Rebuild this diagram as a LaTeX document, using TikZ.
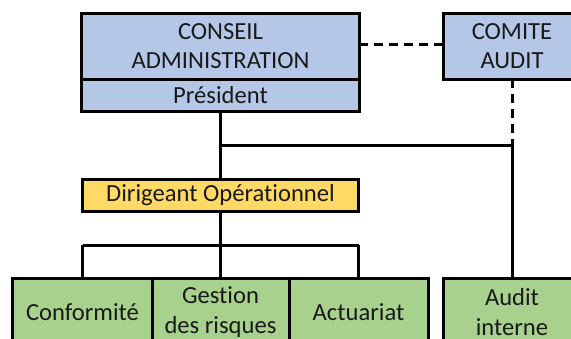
\documentclass[tikz,border=0pt]{standalone}
\usepackage{fontspec}
\setmainfont[Ligatures={NoCommon}]{Carlito}
\definecolor{bluebox}{RGB}{180,199,231}
\definecolor{yellowbox}{RGB}{255,217,102}
\definecolor{greenbox}{RGB}{169,209,142}
\tikzset{
  orgbox/.style={draw=black, line width=3bp, inner sep=0pt, outer sep=0pt, align=center,
    font=\fontsize{24.6bp}{29.5bp}\selectfont, text=black!90},
  bluestyle/.style={orgbox, fill=bluebox},
  yellowstyle/.style={orgbox, fill=yellowbox},
  greenstyle/.style={orgbox, fill=greenbox},
  link/.style={draw=black, line width=3bp},
  dashlink/.style={draw=black, line width=3bp, dash pattern=on 9bp off 6bp}
}
\begin{document}
\begin{tikzpicture}[x=1bp,y=-1bp]
\useasboundingbox (0,0) rectangle (571,338);
\clip (0,0) rectangle (571,338);
\fill[white] (0,0) rectangle (571,338);
% top boxes
\node[bluestyle, minimum width=277bp, minimum height=66bp] (conseil) at (220.5,46) {CONSEIL\\ADMINISTRATION};
\node[bluestyle, minimum width=277bp, minimum height=32bp] (president) at (220.5,95) {Président};
\node[bluestyle, minimum width=138bp, minimum height=66bp] (comite) at (512,46) {COMITE\\AUDIT};
% dirigeant
\node[yellowstyle, minimum width=276bp, minimum height=32bp] (dirigeant) at (220.5,195) {Dirigeant Opérationnel};
% bottom boxes
\node[greenstyle, minimum width=139bp, minimum height=68bp] (conf) at (82.5,312) {Conformité};
\node[greenstyle, minimum width=137bp, minimum height=68bp] (gestion) at (220.5,312) {Gestion\\des risques};
\node[greenstyle, minimum width=139bp, minimum height=68bp] (actu) at (358.5,312) {Actuariat};
\node[greenstyle, minimum width=138bp, minimum height=68bp] (audit) at (512,312) {Audit\\interne};
% junction coordinates
\coordinate (jl) at (220.5,145);
\coordinate (jr) at (512,145);
\coordinate (bl) at (82.5,245);
\coordinate (br) at (358.5,245);
% connectors
\draw[dashlink] (conseil.east |- 0,44) -- (comite.west |- 0,44);
\draw[link] (president.south) -- (dirigeant.north);
\draw[link] (jl) -- (jr);
\draw[dashlink] (comite.south) -- (jr);
\draw[link] (jr) -- (audit.north);
\draw[link] (dirigeant.south) -- (gestion.north);
\draw[link] (bl) -- (br);
\draw[link] (bl) -- (conf.north);
\draw[link] (br) -- (actu.north);
\end{tikzpicture}
\end{document}
